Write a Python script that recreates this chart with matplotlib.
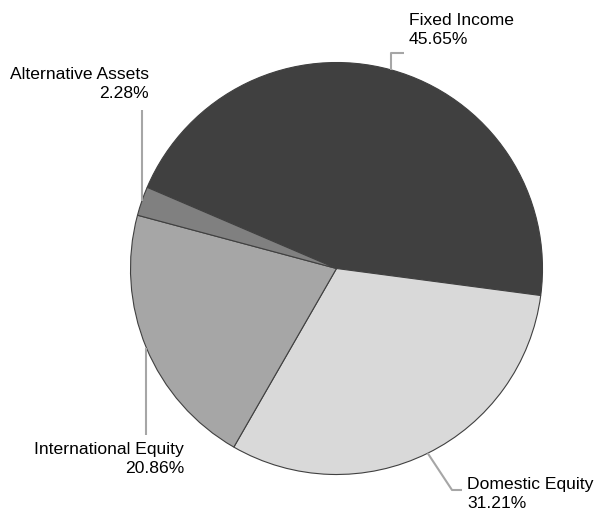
import numpy as np
import matplotlib
matplotlib.use("Agg")
import matplotlib.pyplot as plt
from matplotlib import font_manager

# datos del grafico
labels = ["Fixed Income", "Domestic Equity", "International Equity", "Alternative Assets"]
values = [45.65, 31.21, 20.86, 2.28]
colors = ["#404040", "#d9d9d9", "#a6a6a6", "#808080"]

# fuente estrecha si existe
names = {f.name for f in font_manager.fontManager.ttflist}
if "Liberation Sans Narrow" in names:
    fam, fsize, lsp = "Liberation Sans Narrow", 14.5, 1.15
else:
    fam, fsize, lsp = "Liberation Sans", 12.6, 1.4

W, H = 597, 515
fig = plt.figure(figsize=(W / 100, H / 100), dpi=100)
ax = fig.add_axes([0, 0, 1, 1])

cx, cy, r = 336.5, H - 268.5, 206
start = 156.8
wedges, _ = ax.pie(values, colors=colors, startangle=start, counterclock=False,
                   center=(cx, cy), radius=r, frame=True,
                   wedgeprops=dict(edgecolor="#404040", linewidth=0.8))
ax.set_xlim(0, W)
ax.set_ylim(0, H)
ax.set_aspect("equal")
ax.axis("off")

# puntos de anclaje en el borde, a mitad de cada porcion
anchors = []
for w in wedges:
    a = np.deg2rad((w.theta1 + w.theta2) / 2)
    anchors.append((cx + r * np.cos(a), cy + r * np.sin(a)))

# (codo, final, posicion del texto, alineacion) en pixeles desde arriba
layout = {
    "Fixed Income": ((0, 53), (404, 53), (409, 30), "left"),
    "Domestic Equity": ((452, 490), (462, 490), (467, 494), "left"),
    "International Equity": ((0, 435), None, (184, 459), "right"),
    "Alternative Assets": ((0, 110), None, (149, 84), "right"),
}

lc = "#a6a6a6"
for lab, val, (ax_x, ax_y) in zip(labels, values, anchors):
    elbow, end, tpos, ha = layout[lab]
    ex = elbow[0] if elbow[0] else ax_x
    xs = [ax_x, ex]
    ys = [ax_y, H - elbow[1]]
    if end is not None:
        xs.append(end[0])
        ys.append(H - end[1])
    ax.plot(xs, ys, color=lc, lw=1.5, solid_capstyle="butt")
    ax.text(tpos[0], H - tpos[1], f"{lab}\n{val:.2f}%", ha=ha, va="center",
            multialignment=ha, fontsize=fsize, family=fam, color="#000000",
            linespacing=lsp)

fig.savefig("out.png", dpi=100)
